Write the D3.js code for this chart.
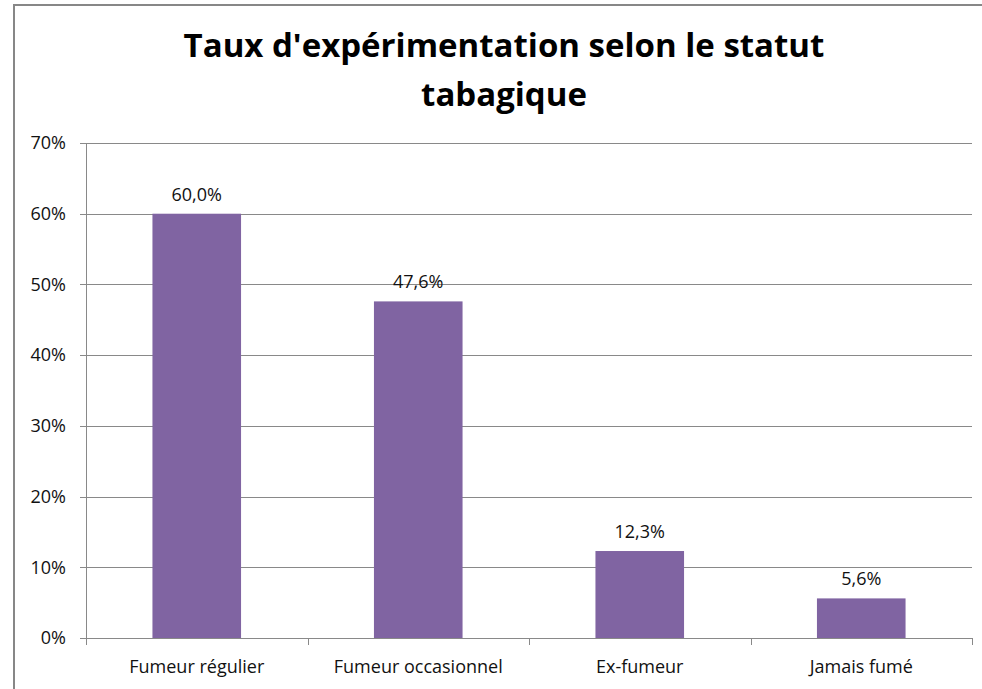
<!DOCTYPE html>
<html>
<head>
<meta charset="utf-8">
<script src="https://cdn.jsdelivr.net/npm/d3@7"></script>
<style>
  body { margin: 0; background: #fff; }
  text { font-family: "Open Sans", sans-serif; }
</style>
</head>
<body>
<script>
// data
const categories = ['Fumeur régulier', 'Fumeur occasionnel', 'Ex-fumeur', 'Jamais fumé'];
const values = [60.0, 47.6, 12.3, 5.6];
const yTicks = [0, 10, 20, 30, 40, 50, 60, 70];
const titleLines = ["Taux d'expérimentation selon le statut", 'tabagique'];

const width = 982;
const height = 689;

const svg = d3.select('body').append('svg').attr('width', width).attr('height', height);

// outer chart border
svg.append('rect')
  .attr('x', 14).attr('y', 5)
  .attr('width', width + 10).attr('height', height + 10)
  .attr('fill', 'white')
  .attr('stroke', '#878787')
  .attr('stroke-width', 2);

const margin = { left: 86, right: 10, top: 143, bottom: 51 };

const x = d3.scaleBand()
  .domain(categories)
  .range([margin.left, width - margin.right]);

const y = d3.scaleLinear()
  .domain([0, 70])
  .range([height - margin.bottom, margin.top]);

// title
svg.append('g')
  .selectAll('text')
  .data(titleLines)
  .join('text')
    .attr('x', 504)
    .attr('y', (d, i) => 57 + i * 49)
    .attr('text-anchor', 'middle')
    .attr('font-size', 33)
    .attr('font-weight', 'bold')
    .attr('fill', '#000')
    .text(d => d);

// gridlines
svg.append('g')
  .selectAll('line')
  .data(yTicks)
  .join('line')
    .attr('x1', margin.left - 6)
    .attr('x2', width - margin.right)
    .attr('y1', d => Math.round(y(d)) + 0.5)
    .attr('y2', d => Math.round(y(d)) + 0.5)
    .attr('stroke', '#898989')
    .attr('stroke-width', 1);

// y axis line
svg.append('line')
  .attr('x1', margin.left + 0.5).attr('x2', margin.left + 0.5)
  .attr('y1', y(70)).attr('y2', y(0))
  .attr('stroke', '#898989');

// y tick labels
svg.append('g')
  .selectAll('text')
  .data(yTicks)
  .join('text')
    .attr('x', 66)
    .attr('y', d => y(d))
    .attr('dy', '0.35em')
    .attr('text-anchor', 'end')
    .attr('font-size', 18)
    .attr('fill', '#111')
    .text(d => d + '%');

// x axis category ticks
const bounds = categories.map(c => x(c)).concat([x.range()[1]]);
svg.append('g')
  .selectAll('line')
  .data(bounds)
  .join('line')
    .attr('x1', d => Math.round(d) + 0.5)
    .attr('x2', d => Math.round(d) + 0.5)
    .attr('y1', y(0))
    .attr('y2', y(0) + 7)
    .attr('stroke', '#898989');

// bars
const barW = x.bandwidth() * 0.4;
svg.append('g')
  .selectAll('rect')
  .data(values)
  .join('rect')
    .attr('x', (d, i) => x(categories[i]) + (x.bandwidth() - barW) / 2)
    .attr('y', d => y(d))
    .attr('width', barW)
    .attr('height', d => y(0) - y(d))
    .attr('fill', '#8064A2');

// value labels
svg.append('g')
  .selectAll('text')
  .data(values)
  .join('text')
    .attr('x', (d, i) => x(categories[i]) + x.bandwidth() / 2)
    .attr('y', d => y(d) - 13)
    .attr('text-anchor', 'middle')
    .attr('font-size', 18)
    .attr('fill', '#111')
    .text(d => d.toFixed(1).replace('.', ',') + '%');

// category labels
svg.append('g')
  .selectAll('text')
  .data(categories)
  .join('text')
    .attr('x', d => x(d) + x.bandwidth() / 2)
    .attr('y', 673)
    .attr('text-anchor', 'middle')
    .attr('font-size', 18)
    .attr('fill', '#111')
    .text(d => d);
</script>
</body>
</html>
